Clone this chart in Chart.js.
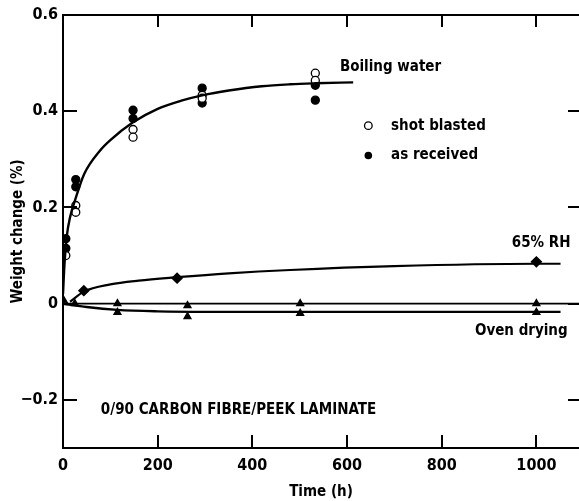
<!DOCTYPE html>
<html>
<head>
<meta charset="utf-8">
<script src="https://cdn.jsdelivr.net/npm/chart.js@4.4.1/dist/chart.umd.min.js"></script>
<style>
  html, body { margin: 0; padding: 0; background: #fff; }
  #wrap { width: 579px; height: 501px; }
</style>
</head>
<body>
<div id="wrap"><canvas id="myChart" width="579" height="501"></canvas></div>
<script>
// tick values
const xTickValues = [0, 200, 400, 600, 800, 1000];
const yTickValues = [-0.2, 0, 0.2, 0.4, 0.6];

// boiling water - measured points
const shotTimes = [6, 27, 27, 148, 148, 294, 294, 533, 533];
const shotValues = [0.10, 0.204, 0.19, 0.362, 0.346, 0.433, 0.427, 0.479, 0.464];
const recvTimes = [6, 6, 27, 27, 148, 148, 294, 294, 533, 533];
const recvValues = [0.135, 0.115, 0.258, 0.243, 0.402, 0.385, 0.448, 0.417, 0.454, 0.423];

// boiling water - fitted curve
const boilCurveTimes = [0, 3, 8, 15, 27, 45, 78, 100, 148, 200, 250, 294, 350, 420, 480, 533, 613];
const boilCurveValues = [0.02, 0.08, 0.14, 0.18, 0.22, 0.27, 0.318, 0.34, 0.377, 0.405, 0.422, 0.433, 0.443, 0.452, 0.456, 0.458, 0.46];

// 65% RH
const rhTimes = [44, 241, 1000];
const rhValues = [0.027, 0.053, 0.087];
const rhCurveTimes = [15, 44, 100, 160, 241, 350, 480, 700, 1000, 1051];
const rhCurveValues = [0.004, 0.025, 0.04, 0.048, 0.055, 0.063, 0.07, 0.078, 0.083, 0.083];

// oven drying
const ovenTimes = [2, 25, 115, 115, 263, 263, 501, 501, 1000, 1000];
const ovenValues = [0.006, 0.0, 0.0, -0.018, -0.004, -0.027, 0.0, -0.02, 0.0, -0.018];
const ovenCurveTimes = [0, 50, 115, 200, 300, 500, 1051];
const ovenCurveValues = [0, -0.007, -0.013, -0.016, -0.017, -0.017, -0.017];

// zero reference line
const zeroTimes = [0, 1090];
const zeroValues = [0, 0];

const FONT = '"DejaVu Sans Condensed", "DejaVu Sans", sans-serif';

function pts(xs, ys) {
    return xs.map((x, i) => ({x: x, y: ys[i]}));
}

function curve(xs, ys, w) {
    return {
        data: pts(xs, ys),
        showLine: true,
        borderColor: '#000',
        borderWidth: w,
        pointRadius: 0,
        cubicInterpolationMode: 'monotone',
        fill: false
    };
}

function marks(xs, ys, style, bg, r) {
    return {
        data: pts(xs, ys),
        showLine: false,
        pointStyle: style,
        pointRadius: r,
        backgroundColor: bg,
        borderColor: '#000',
        borderWidth: 1.3
    };
}

// inward ticks, frame and text labels
const decorPlugin = {
    id: 'decor',
    afterDraw(chart) {
        const ctx = chart.ctx;
        const a = chart.chartArea;
        const xs = chart.scales.x, ys = chart.scales.y;
        ctx.save();
        ctx.fillStyle = '#000';
        // frame (the right edge falls at the page edge, like the scan)
        ctx.fillRect(a.left - 1, a.top - 1, 2, a.bottom - a.top + 2);
        ctx.fillRect(a.left - 1, a.top - 1, a.right - a.left + 1, 2);
        ctx.fillRect(a.left - 1, a.bottom - 1, a.right - a.left + 1, 2);
        // inward ticks on all four sides
        for (let i = 1; i < xTickValues.length; i++) {
            const px = Math.round(xs.getPixelForValue(xTickValues[i]));
            ctx.fillRect(px - 1, a.bottom - 13, 2, 13);
            ctx.fillRect(px - 1, a.top, 2, 12);
        }
        for (let i = 0; i < yTickValues.length - 1; i++) {
            const py = Math.round(ys.getPixelForValue(yTickValues[i]));
            ctx.fillRect(a.left, py - 1, 14, 2);
            ctx.fillRect(a.right - 11, py - 1, 11, 2);
        }

        ctx.textBaseline = 'middle';
        ctx.font = 'bold 15px ' + FONT;
        ctx.textAlign = 'left';
        ctx.fillText('Boiling water', xs.getPixelForValue(585), ys.getPixelForValue(0.492));
        ctx.fillText('shot blasted', xs.getPixelForValue(693), ys.getPixelForValue(0.37));
        ctx.fillText('as received', xs.getPixelForValue(693), ys.getPixelForValue(0.308));
        ctx.fillText('0/90 CARBON FIBRE/PEEK LAMINATE', xs.getPixelForValue(80), ys.getPixelForValue(-0.222));
        ctx.textAlign = 'right';
        ctx.fillText('65% RH', xs.getPixelForValue(1072), ys.getPixelForValue(0.125));
        ctx.fillText('Oven drying', xs.getPixelForValue(1066), ys.getPixelForValue(-0.057));

        // legend markers
        ctx.lineWidth = 1.3;
        ctx.strokeStyle = '#000';
        ctx.beginPath();
        ctx.arc(xs.getPixelForValue(645), ys.getPixelForValue(0.37), 3.8, 0, Math.PI * 2);
        ctx.fillStyle = '#fff'; ctx.fill(); ctx.stroke();
        ctx.beginPath();
        ctx.arc(xs.getPixelForValue(645), ys.getPixelForValue(0.308), 3.8, 0, Math.PI * 2);
        ctx.fillStyle = '#000'; ctx.fill();
        ctx.restore();
    }
};

const myChart = new Chart(document.getElementById('myChart'), {
    type: 'scatter',
    data: {
        datasets: [
            curve(boilCurveTimes, boilCurveValues, 2.4),
            curve(rhCurveTimes, rhCurveValues, 2.2),
            curve(ovenCurveTimes, ovenCurveValues, 2.4),
            curve(zeroTimes, zeroValues, 1.6),
            marks(shotTimes, shotValues, 'circle', '#fff', 4),
            marks(recvTimes, recvValues, 'circle', '#000', 4),
            marks(rhTimes, rhValues, 'rectRot', '#000', 5),
            marks(ovenTimes, ovenValues, 'triangle', '#000', 4)
        ]
    },
    options: {
        responsive: false,
        animation: false,
        layout: { autoPadding: false, padding: { top: 15, right: 0, left: 0, bottom: 0 } },
        plugins: { legend: { display: false }, tooltip: { enabled: false } },
        scales: {
            x: {
                type: 'linear',
                min: 0, max: 1090,
                afterBuildTicks: s => { s.ticks = xTickValues.map(v => ({value: v})); },
                afterFit: s => { s.height = 53; s.paddingLeft = 0; s.paddingRight = 0; },
                grid: { display: false, drawTicks: false },
                border: { display: false },
                ticks: { color: '#000', padding: 8, font: { family: FONT, size: 16, weight: 'bold' }, maxRotation: 0,
                         callback: v => String(v) },
                title: { display: true, text: 'Time (h)', color: '#000', padding: { top: 4, bottom: 0 },
                         font: { family: FONT, size: 15, weight: 'bold' } }
            },
            y: {
                type: 'linear',
                min: -0.3, max: 0.6,
                afterBuildTicks: s => { s.ticks = yTickValues.map(v => ({value: v})); },
                afterFit: s => { s.width = 63; s.paddingTop = 0; s.paddingBottom = 0; },
                grid: { display: false, drawTicks: false },
                border: { display: false },
                ticks: { color: '#000', padding: 5, font: { family: FONT, size: 16, weight: 'bold' },
                         callback: v => v < 0 ? '\u2212' + Math.abs(v).toFixed(1) : (v === 0 ? '0' : v.toFixed(1)) },
                title: { display: true, text: 'Weight change (%)', color: '#000', padding: { top: 9, bottom: 0 },
                         font: { family: FONT, size: 15, weight: 'bold' } }
            }
        }
    },
    plugins: [decorPlugin]
});
</script>
</body>
</html>
